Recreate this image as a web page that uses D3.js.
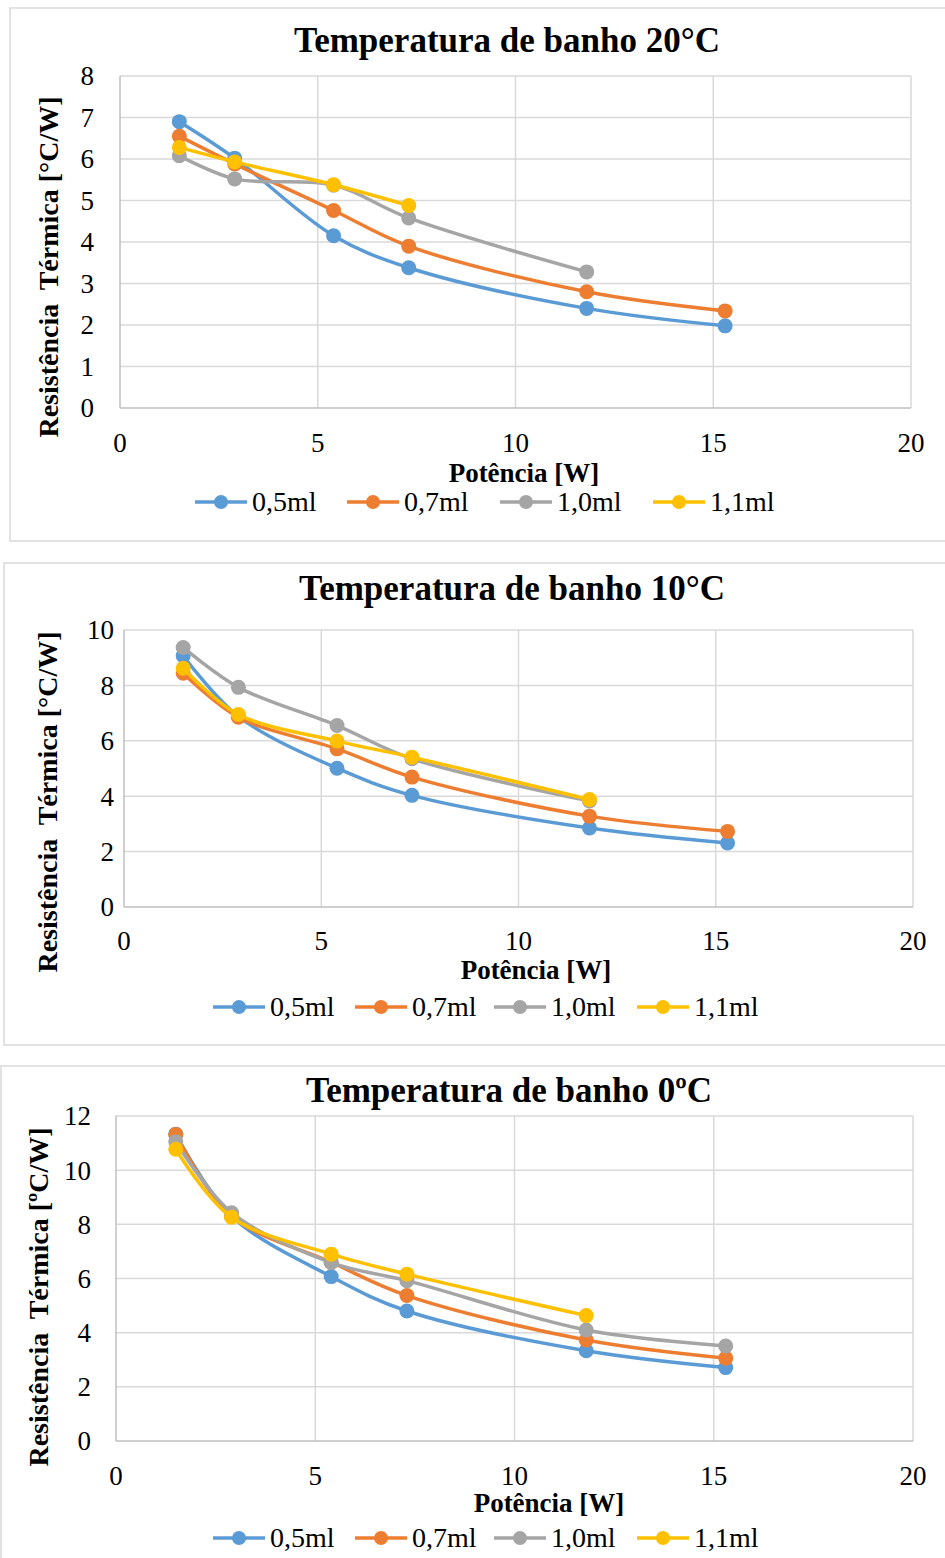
<!DOCTYPE html>
<html>
<head>
<meta charset="utf-8">
<script src="https://cdn.jsdelivr.net/npm/d3@7"></script>
<style>
  html, body { margin: 0; padding: 0; background: #fff; }
  svg text { font-family: "Liberation Serif", "Times New Roman", serif; fill: #000; }
</style>
</head>
<body>
<div id="root"></div>
<script>
// potência [W] — same x for all three runs
const potencia = [1.5, 2.9, 5.4, 7.3, 11.8, 15.3];
const seriesNames = ['0,5ml', '0,7ml', '1,0ml', '1,1ml'];
const seriesColors = ['#5B9BD5', '#ED7D31', '#A5A5A5', '#FFC000'];
const xTicks = [0, 5, 10, 15, 20];

// banho 20°C
const r20_05 = [6.9, 6.02, 4.15, 3.38, 2.4, 1.98];
const r20_07 = [6.55, 5.88, 4.76, 3.9, 2.8, 2.34];
const r20_10 = [6.08, 5.52, 5.37, 4.58, 3.28];
const r20_11 = [6.28, 5.93, 5.38, 4.88];
const yTicks20 = [0, 1, 2, 3, 4, 5, 6, 7, 8];

// banho 10°C
const r10_05 = [9.07, 6.88, 5.01, 4.03, 2.85, 2.31];
const r10_07 = [8.44, 6.85, 5.71, 4.69, 3.28, 2.73];
const r10_10 = [9.37, 7.93, 6.55, 5.35, 3.83];
const r10_11 = [8.62, 6.95, 5.99, 5.41, 3.88];
const yTicks10 = [0, 2, 4, 6, 8, 10];

// banho 0ºC
const r0_05 = [11.33, 8.3, 6.07, 4.8, 3.33, 2.71];
const r0_07 = [11.32, 8.3, 6.6, 5.37, 3.73, 3.06];
const r0_10 = [11.05, 8.43, 6.59, 5.92, 4.1, 3.51];
const r0_11 = [10.77, 8.26, 6.9, 6.16, 4.63];
const yTicks0 = [0, 2, 4, 6, 8, 10, 12];

const W = 945, H = 1558;
const svg = d3.select('#root').append('svg').attr('width', W).attr('height', H);

const charts = [
  { title: 'Temperatura de banho 20°C', yTitle: 'Resistência  Térmica [°C/W]',
    series: [r20_05, r20_07, r20_10, r20_11], yTicks: yTicks20,
    box: [10, 8, 960, 541], plot: { l: 120, r: 911, t: 76, b: 408 },
    titleX: 507, titleY: 52, yLabelRight: 94, xLabelY: 452,
    yTitleX: 58, yTitleY: 267, xTitleX: 524, xTitleY: 482,
    legendY: 502, legendX: [195, 347, 500, 653] },
  { title: 'Temperatura de banho 10°C', yTitle: 'Resistência  Térmica [°C/W]',
    series: [r10_05, r10_07, r10_10, r10_11], yTicks: yTicks10,
    box: [4, 563, 960, 1045], plot: { l: 124, r: 913, t: 630, b: 907 },
    titleX: 512, titleY: 600, yLabelRight: 114, xLabelY: 950,
    yTitleX: 57, yTitleY: 802, xTitleX: 536, xTitleY: 979,
    legendY: 1007, legendX: [213, 355, 494, 637] },
  { title: 'Temperatura de banho 0ºC', yTitle: 'Resistência  Térmica [ºC/W]',
    series: [r0_05, r0_07, r0_10, r0_11], yTicks: yTicks0,
    box: [1, 1066, 960, 1600], plot: { l: 116, r: 913, t: 1116, b: 1441 },
    titleX: 509, titleY: 1102, yLabelRight: 91, xLabelY: 1485,
    yTitleX: 48, yTitleY: 1297, xTitleX: 549, xTitleY: 1512,
    legendY: 1538, legendX: [213, 355, 494, 637] }
];

charts.forEach(drawChart);

function drawChart(c) {
  const g = svg.append('g');
  const [bx0, by0, bx1, by1] = c.box;
  g.append('rect')
    .attr('x', bx0).attr('y', by0)
    .attr('width', bx1 - bx0).attr('height', by1 - by0)
    .attr('fill', '#fff').attr('stroke', '#d9d9d9').attr('stroke-width', 1.5);

  const p = c.plot;
  const x = d3.scaleLinear().domain([0, 20]).range([p.l, p.r]);
  const y = d3.scaleLinear().domain([0, d3.max(c.yTicks)]).range([p.b, p.t]);

  // gridlines
  g.append('g').selectAll('line.h').data(c.yTicks.slice(1)).join('line')
    .attr('x1', p.l).attr('x2', p.r)
    .attr('y1', d => y(d)).attr('y2', d => y(d))
    .attr('stroke', '#d9d9d9').attr('stroke-width', 1.5);
  g.append('g').selectAll('line.v').data(xTicks.slice(1)).join('line')
    .attr('x1', d => x(d)).attr('x2', d => x(d))
    .attr('y1', p.t).attr('y2', p.b)
    .attr('stroke', '#d9d9d9').attr('stroke-width', 1.5);

  // axis lines
  g.append('line').attr('x1', p.l).attr('x2', p.l).attr('y1', p.t).attr('y2', p.b)
    .attr('stroke', '#bfbfbf').attr('stroke-width', 1.5);
  g.append('line').attr('x1', p.l).attr('x2', p.r).attr('y1', p.b).attr('y2', p.b)
    .attr('stroke', '#bfbfbf').attr('stroke-width', 1.5);

  // tick labels
  g.append('g').selectAll('text').data(c.yTicks).join('text')
    .attr('x', c.yLabelRight).attr('y', d => y(d)).attr('dy', '0.35em')
    .attr('text-anchor', 'end').style('font-size', '27px')
    .text(d => d);
  g.append('g').selectAll('text').data(xTicks).join('text')
    .attr('x', d => x(d)).attr('y', c.xLabelY)
    .attr('text-anchor', 'middle').style('font-size', '27px')
    .text(d => d);

  // titles
  g.append('text').attr('x', c.titleX).attr('y', c.titleY)
    .attr('text-anchor', 'middle').style('font-size', '35px').style('font-weight', 'bold')
    .text(c.title);
  g.append('text').attr('x', c.xTitleX).attr('y', c.xTitleY)
    .attr('text-anchor', 'middle').style('font-size', '27px').style('font-weight', 'bold')
    .text('Potência [W]');
  g.append('text')
    .attr('transform', `translate(${c.yTitleX},${c.yTitleY}) rotate(-90)`)
    .attr('text-anchor', 'middle').style('font-size', '28px').style('font-weight', 'bold')
    .style('white-space', 'pre')
    .text(c.yTitle);

  // series
  const line = d3.line()
    .x(d => x(d[0])).y(d => y(d[1]))
    .curve(d3.curveCatmullRom.alpha(0.5));
  c.series.forEach((vals, i) => {
    const pts = vals.map((v, j) => [potencia[j], v]);
    const sg = g.append('g');
    sg.append('path').datum(pts).attr('d', line)
      .attr('fill', 'none').attr('stroke', seriesColors[i])
      .attr('stroke-width', 3.5).attr('stroke-linejoin', 'round');
    sg.selectAll('circle').data(pts).join('circle')
      .attr('cx', d => x(d[0])).attr('cy', d => y(d[1])).attr('r', 7.5)
      .attr('fill', seriesColors[i]);
  });

  // legend
  const lg = g.append('g');
  seriesNames.forEach((name, i) => {
    const lx = c.legendX[i];
    lg.append('line').attr('x1', lx).attr('x2', lx + 52)
      .attr('y1', c.legendY).attr('y2', c.legendY)
      .attr('stroke', seriesColors[i]).attr('stroke-width', 3.5);
    lg.append('circle').attr('cx', lx + 26).attr('cy', c.legendY).attr('r', 7)
      .attr('fill', seriesColors[i]);
    lg.append('text').attr('x', lx + 57).attr('y', c.legendY + 9)
      .style('font-size', '28px').text(name);
  });
}
</script>
</body>
</html>
